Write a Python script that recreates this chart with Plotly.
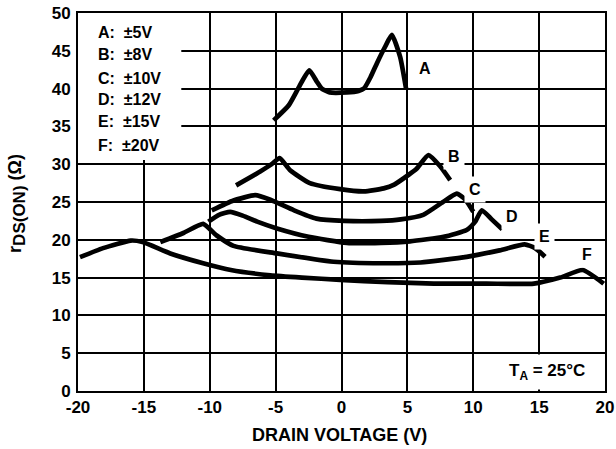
import plotly.graph_objects as go

# ---- data ----
A_x = [-5.15, -4.0, -3.2, -2.45, -1.9, -1.5, -0.9, 0.4, 1.3, 1.7, 2.2, 2.7, 3.3, 3.82, 4.45, 4.9]
A_y = [35.8, 37.8, 40.3, 42.4, 41.0, 40.0, 39.5, 39.5, 39.7, 40.0, 41.5, 43.4, 45.5, 47.1, 44.2, 40.0]

B_x = [-8.0, -6.2, -5.3, -4.7, -3.9, -2.4, -0.1, 1.7, 3.2, 4.0, 5.1, 5.7, 6.6, 7.5, 8.25]
B_y = [27.2, 29.0, 30.0, 30.8, 29.2, 27.5, 26.7, 26.4, 26.8, 27.3, 28.6, 29.4, 31.2, 29.7, 27.9]

C_x = [-9.85, -8.2, -6.55, -5.4, -3.6, -1.9, 0.2, 3.0, 4.5, 6.2, 7.7, 8.75, 9.4, 10.0]
C_y = [23.9, 25.2, 25.9, 25.3, 23.9, 22.8, 22.5, 22.5, 22.7, 23.3, 25.0, 26.1, 25.3, 23.7]

D_x = [-10.1, -9.3, -8.45, -7.5, -6.4, -4.9, -2.5, 0.4, 3.0, 5.2, 7.75, 9.5, 10.15, 10.65, 11.4, 12.2]
D_y = [22.4, 23.3, 23.7, 23.2, 22.4, 21.5, 20.4, 19.6, 19.6, 19.8, 20.4, 21.3, 22.4, 23.9, 22.7, 21.4]

E_x = [-13.75, -12.0, -10.5, -9.5, -8.2, -4.9, -0.6, 3.0, 6.0, 9.5, 12.0, 13.9, 14.7, 15.45]
E_y = [19.7, 20.9, 22.1, 20.6, 19.2, 18.2, 17.1, 16.9, 17.0, 17.75, 18.6, 19.4, 18.9, 17.75]

F_x = [-19.85, -18.1, -16.0, -15.1, -13.0, -10.5, -8.4, -5.4, -3.0, -0.1, 3.5, 7.0, 11.0, 14.6, 16.6, 18.3, 19.9]
F_y = [17.7, 18.9, 19.9, 19.7, 18.2, 16.9, 16.0, 15.3, 15.0, 14.7, 14.4, 14.2, 14.2, 14.2, 15.0, 16.0, 14.2]

curve_labels = ["A", "B", "C", "D", "E", "F"]
label_x = [6.35, 8.57, 10.15, 12.93, 15.38, 18.6]
label_y = [42.7, 31.0, 26.7, 23.1, 20.5, 18.0]

legend_lines = ["A:\u00a0\u00a0\u00b15V", "B:\u00a0\u00a0\u00b18V", "C:\u00a0\u00a0\u00b110V",
                "D:\u00a0\u00a0\u00b112V", "E:\u00a0\u00a0\u00b115V", "F:\u00a0\u00a0\u00b120V"]
legend_y = [47.4, 44.5, 41.4, 38.5, 35.6, 32.5]

x_ticks = [-20, -15, -10, -5, 0, 5, 10, 15, 20]
x_ticktext = ["-20", "-15", "-10", "-5", "0", "5", "10", "15", "20"]
y_ticks = [0, 5, 10, 15, 20, 25, 30, 35, 40, 45, 50]

FONT = "Liberation Sans, Arial, sans-serif"

fig = go.Figure()
for xs, ys in [(A_x, A_y), (B_x, B_y), (C_x, C_y), (D_x, D_y), (E_x, E_y), (F_x, F_y)]:
    fig.add_trace(go.Scatter(x=xs, y=ys, mode="lines",
                             line=dict(color="black", width=4.7, shape="spline", smoothing=0.5),
                             showlegend=False, hoverinfo="skip"))

# white box behind the legend text
fig.add_shape(type="rect", xref="x", yref="y", x0=-20, x1=-12.16, y0=30.55, y1=50,
              fillcolor="white", line=dict(width=0), layer="between")

for t, yy in zip(legend_lines, legend_y):
    fig.add_annotation(x=-18.6, y=yy, text=t, showarrow=False, xanchor="left", yanchor="middle",
                       font=dict(family=FONT, size=16, color="black", weight="bold"))

for t, xx, yy in zip(curve_labels, label_x, label_y):
    fig.add_annotation(x=xx, y=yy, text=t, showarrow=False, bgcolor="white", borderpad=4,
                       xanchor="center", yanchor="middle",
                       font=dict(family=FONT, size=16, color="black", weight="bold"))

fig.add_annotation(x=15.6, y=2.45, text="T<sub>A</sub> = 25°C", showarrow=False,
                   bgcolor="white", borderpad=6, xanchor="center", yanchor="middle",
                   font=dict(family=FONT, size=17, color="black", weight="bold"))

# axis titles
fig.add_annotation(xref="paper", yref="paper", x=0.497, y=-0.1164, text="DRAIN VOLTAGE (V)",
                   showarrow=False, xanchor="center", yanchor="middle",
                   font=dict(family=FONT, size=18, color="black", weight="bold"))
fig.add_annotation(xref="paper", yref="paper", x=-0.1157, y=0.495,
                   text="r<sub><span style='font-size:17px'>DS(ON)</span></sub> (Ω)",
                   textangle=-90, showarrow=False, xanchor="center", yanchor="middle",
                   font=dict(family=FONT, size=18, color="black", weight="bold"))

fig.update_layout(
    width=616, height=449,
    margin=dict(l=78, r=11, t=13, b=58, autoexpand=False),
    paper_bgcolor="white", plot_bgcolor="white",
    font=dict(family=FONT, size=17, color="black", weight="bold"),
    xaxis=dict(range=[-20, 20], tickvals=x_ticks, ticktext=x_ticktext,
               showgrid=True, gridcolor="black", gridwidth=2, zeroline=False,
               showline=True, linecolor="black", linewidth=2, mirror=True, ticks="",
               ticklabeloverflow="allow",
               tickfont=dict(family=FONT, size=17, color="black", weight="bold")),
    yaxis=dict(range=[0, 50], tickvals=y_ticks,
               showgrid=True, gridcolor="black", gridwidth=2, zeroline=False,
               showline=True, linecolor="black", linewidth=2, mirror=True, ticks="",
               ticklabelstandoff=2, ticklabeloverflow="allow",
               tickfont=dict(family=FONT, size=17, color="black", weight="bold")),
)

fig.write_html("out.html", config={"displayModeBar": False},
               post_script="document.body.style.margin='0';document.body.style.overflow='hidden';")
